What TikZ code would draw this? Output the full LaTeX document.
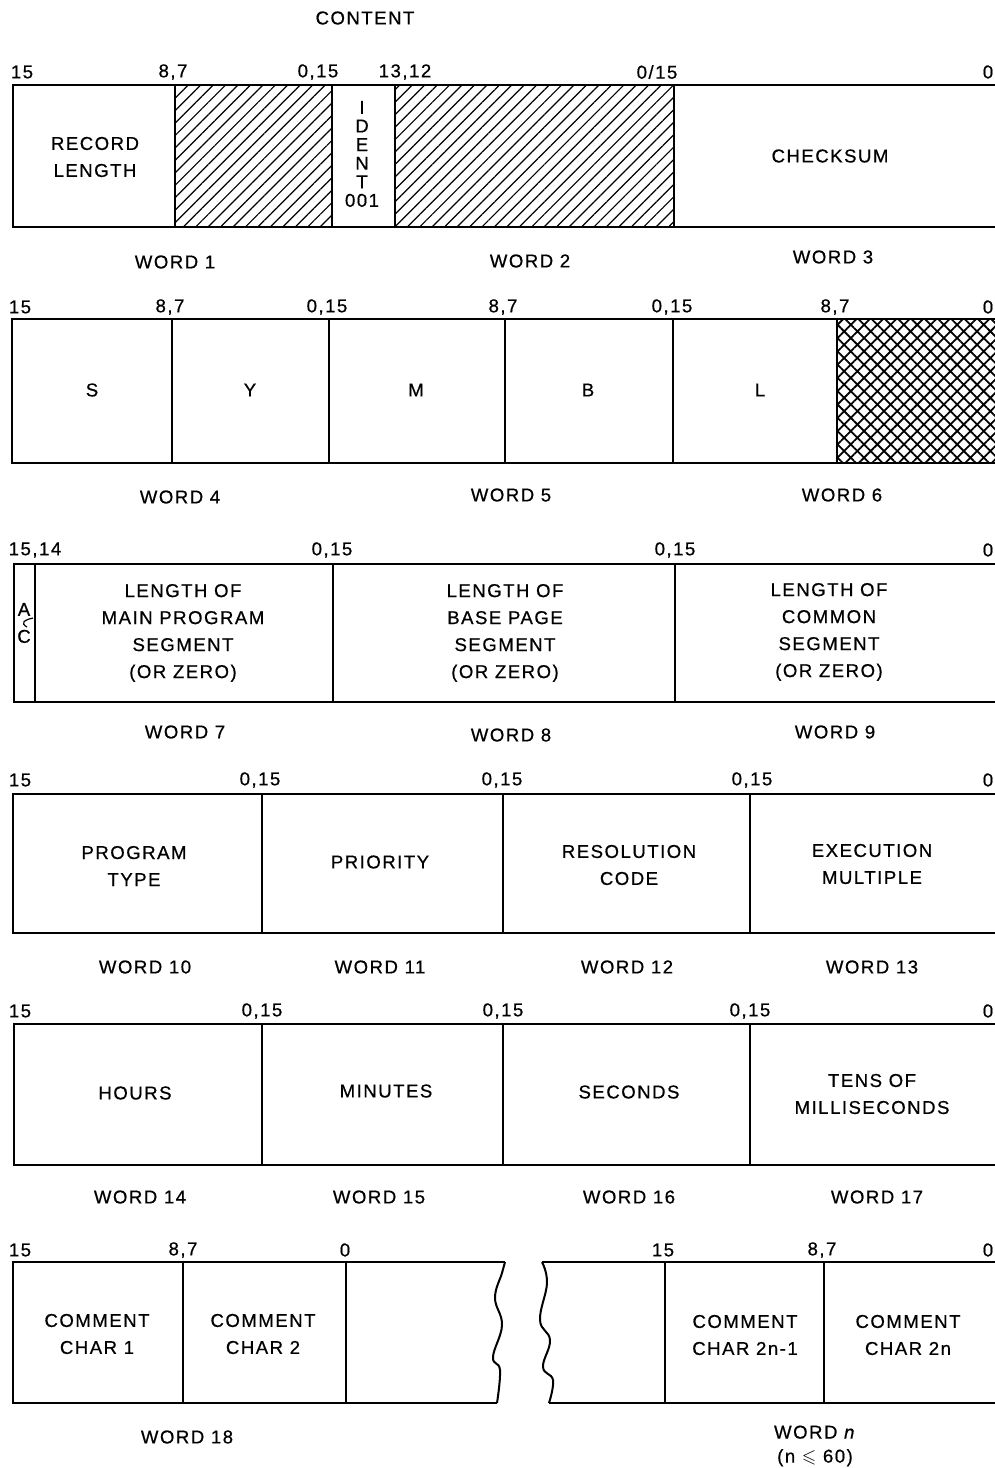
\documentclass[tikz,border=0pt]{standalone}
\usepackage{fontspec}
\usepackage{amssymb}
\newfontfamily\diagfont[LetterSpace=8, FakeBold=0.6]{Liberation Sans}
\usetikzlibrary{patterns.meta}

\begin{document}
\begin{tikzpicture}[x=0.5pt, y=-0.5pt,
  box/.style={line width=1pt},
  sep/.style={line width=0.8pt},
  bit/.style={inner sep=0pt, font=\diagfont\fontsize{9.3}{11}\selectfont},
  txt/.style={inner sep=0pt, align=center, font=\diagfont\fontsize{9.3}{13.5}\selectfont},
  word/.style={inner sep=0pt, align=center, font=\diagfont\fontsize{9.3}{12}\selectfont},
  hatch/.style={pattern={Lines[angle=45, distance=4.4pt, line width=0.6pt]}},
  xhatch/.style={pattern={Hatch[angle=45, distance=4.7pt, line width=0.9pt]}}]
\useasboundingbox (0,0) rectangle (995,1468);
\clip (0,0) rectangle (995,1468);

% words 1-3
\node[word] (content) at (365,18) {CONTENT};
\foreach \x/\t [count=\i] in {22/15, 173/{8,7}, 318/{0,15}, 405/{13,12}, 657/{0/15}, 988/0}
  \node[bit] (ra\i) at (\x,72) {\t};
\fill[hatch] (175,85) rectangle (332,227);
\fill[hatch] (395,85) rectangle (674,227);
\draw[box] (1000,85) -- (13,85) -- (13,227) -- (1000,227);
\foreach \x in {175,332,395,674} \draw[sep] (\x,85) -- (\x,227);
\node[txt] (reclen) at (95,157) {RECORD\\LENGTH};
\node[txt, font=\diagfont\fontsize{9.3}{9.3}\selectfont] (ident) at (362,154) {I\\D\\E\\N\\T\\001};
\node[txt] (chksum) at (830,156) {CHECKSUM};
\node[word] (w1) at (175,262) {WORD 1};
\node[word] (w2) at (530,261) {WORD 2};
\node[word] (w3) at (833,257) {WORD 3};

% words 4-6
\foreach \x/\t [count=\i] in {20/15, 170/{8,7}, 327/{0,15}, 503/{8,7}, 672/{0,15}, 835/{8,7}, 988/0}
  \node[bit] (rb\i) at (\x,307) {\t};
\fill[xhatch] (837,319) rectangle (1000,463);
\draw[box] (1000,319) -- (12,319) -- (12,463) -- (1000,463);
\foreach \x in {172,329,505,673,837} \draw[sep] (\x,319) -- (\x,463);
\foreach \x/\t [count=\i] in {92/S, 250/Y, 416/M, 588/B, 760/L}
  \node[txt] (ch\i) at (\x,390) {\t};
\node[word] (w4) at (180,497) {WORD 4};
\node[word] (w5) at (511,495) {WORD 5};
\node[word] (w6) at (842,495) {WORD 6};

% words 7-9
\foreach \x/\t [count=\i] in {35/{15,14}, 332/{0,15}, 675/{0,15}, 988/0}
  \node[bit] (rc\i) at (\x,550) {\t};
\draw[box] (1000,564) -- (14,564) -- (14,702) -- (1000,702);
\foreach \x in {35,333,675} \draw[sep] (\x,564) -- (\x,702);
\node[txt] (ac) at (24,623) {A\\C};
\draw[line width=0.6pt] (33,618) .. controls (24,620) and (20,623) .. (27,627);
\node[txt] (lmain) at (183,633) {LENGTH OF\\MAIN PROGRAM\\SEGMENT\\(OR ZERO)};
\node[txt] (lbase) at (505,633) {LENGTH OF\\BASE PAGE\\SEGMENT\\(OR ZERO)};
\node[txt] (lcomm) at (829,632) {LENGTH OF\\COMMON\\SEGMENT\\(OR ZERO)};
\node[word] (w7) at (185,732) {WORD 7};
\node[word] (w8) at (511,735) {WORD 8};
\node[word] (w9) at (835,732) {WORD 9};

% words 10-13
\foreach \x/\t [count=\i] in {20/15, 260/{0,15}, 502/{0,15}, 752/{0,15}, 988/0}
  \node[bit] (rd\i) at (\x,780) {\t};
\draw[box] (1000,794) -- (13,794) -- (13,933) -- (1000,933);
\foreach \x in {262,503,750} \draw[sep] (\x,794) -- (\x,933);
\node[txt] (ptype) at (134,866) {PROGRAM\\TYPE};
\node[txt] (prio) at (380,862) {PRIORITY};
\node[txt] (rcode) at (629,865) {RESOLUTION\\CODE};
\node[txt] (xmult) at (872,864) {EXECUTION\\MULTIPLE};
\foreach \x/\n in {145/10, 380/11, 627/12, 872/13}
  \node[word] (w\n) at (\x,967) {WORD \n};

% words 14-17
\foreach \x/\t [count=\i] in {20/15, 262/{0,15}, 503/{0,15}, 750/{0,15}, 988/0}
  \node[bit] (re\i) at (\x,1011) {\t};
\draw[box] (1000,1024) -- (14,1024) -- (14,1165) -- (1000,1165);
\foreach \x in {262,503,750} \draw[sep] (\x,1024) -- (\x,1165);
\node[txt] (hours) at (135,1093) {HOURS};
\node[txt] (mins) at (386,1091) {MINUTES};
\node[txt] (secs) at (629,1092) {SECONDS};
\node[txt] (tens) at (872,1094) {TENS OF\\MILLISECONDS};
\foreach \x/\n in {140/14, 379/15, 629/16, 877/17}
  \node[word] (w\n) at (\x,1197) {WORD \n};

% words 18 - n
\foreach \x/\t [count=\i] in {20/15, 183/{8,7}, 345/0, 663/15, 822/{8,7}, 988/0}
  \node[bit] (rf\i) at (\x,1250) {\t};
\draw[box] (505,1262) -- (13,1262) -- (13,1403) -- (497,1403);
\draw[box] plot[smooth, tension=0.7] coordinates {(505,1262) (502,1273) (495,1298) (502,1325) (493,1357) (500,1370) (497,1403)};
\draw[box] (1000,1262) -- (542,1262);
\draw[box] (549,1403) -- (1000,1403);
\draw[box] plot[smooth, tension=0.7] coordinates {(542,1262) (547,1283) (540,1320) (550,1340) (543,1367) (553,1380) (549,1403)};
\foreach \x in {183,346,665,824} \draw[sep] (\x,1262) -- (\x,1403);
\node[txt] (cc1) at (97,1334) {COMMENT\\CHAR 1};
\node[txt] (cc2) at (263,1334) {COMMENT\\CHAR 2};
\node[txt] (ccm) at (745,1335) {COMMENT\\CHAR 2n-1};
\node[txt] (ccn) at (908,1335) {COMMENT\\CHAR 2n};
\node[word] (w18) at (187,1437) {WORD 18};
\node[word] (wn) at (815,1446) {WORD \textit{n}\\(n $\leqslant$ 60)};
\end{tikzpicture}
\end{document}
